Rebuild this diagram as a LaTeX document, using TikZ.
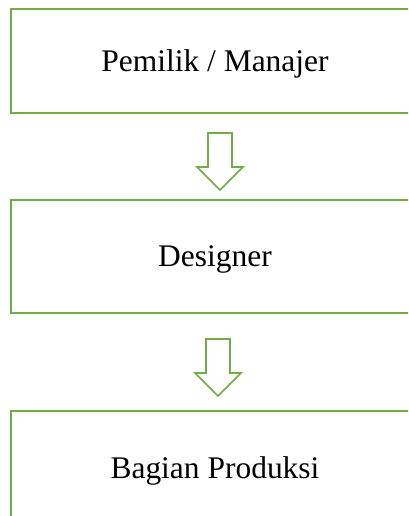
\documentclass[tikz,border=0pt]{standalone}
\usepackage{fontspec}
\setmainfont{Liberation Serif}
\definecolor{grn}{HTML}{70AD47}
\tikzset{
  box/.style={draw=grn, line width=2.1pt, minimum width=306pt, inner sep=0pt,
    text depth=0pt, font=\fontsize{23.6}{28}\selectfont, text=black},
  hollowdown/.pic={
    \draw[grn, line width=1.3pt, line join=miter, fill=white]
      (-12,0) -- (12,0) -- (12,34) -- (23,34) -- (0,57) -- (-23,34) -- (-12,34) -- cycle;
  }
}
\begin{document}
\begin{tikzpicture}[x=0.75pt,y=-0.75pt]
\useasboundingbox (0,0) rectangle (408,516);
\clip (0,0) rectangle (408,516);
\node[box, minimum height=78pt] (b1) at (215,61) {Pemilik / Manajer};
\node[box, minimum height=84.75pt] (b2) at (215,256.5) {Designer};
\node[box, minimum height=84.75pt] (b3) at (215,467.5) {Bagian Produksi};
\pic at (220,133) {hollowdown};
\pic at (218,339) {hollowdown};
\end{tikzpicture}
\end{document}
